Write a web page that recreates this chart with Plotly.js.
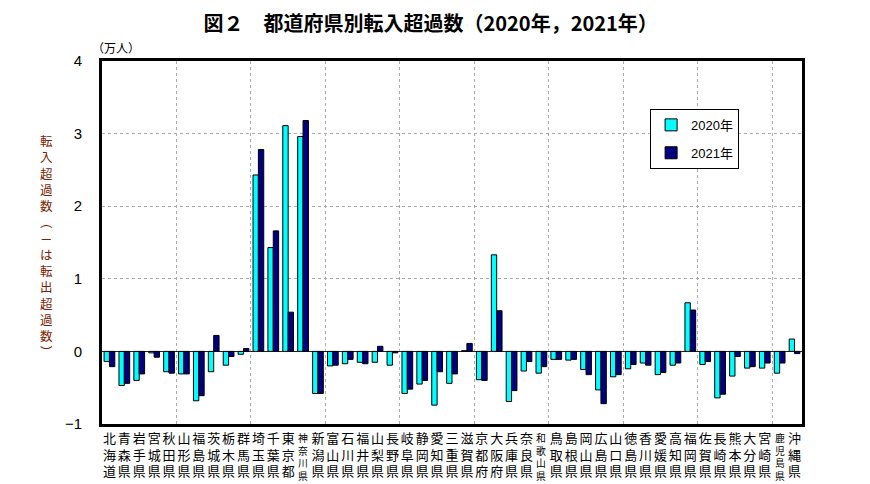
<!DOCTYPE html>
<html>
<head>
<meta charset="utf-8">
<script src="https://cdn.plot.ly/plotly-3.0.1.min.js"></script>
<style>html,body{margin:0;padding:0;background:#fff;}#chart{width:870px;height:484px;}</style>
</head>
<body>
<div id="chart"></div>
<script>
const prefectures = ['北海道','青森県','岩手県','宮城県','秋田県','山形県','福島県','茨城県','栃木県','群馬県',
  '埼玉県','千葉県','東京都','神奈川県','新潟県','富山県','石川県','福井県','山梨県','長野県',
  '岐阜県','静岡県','愛知県','三重県','滋賀県','京都府','大阪府','兵庫県','奈良県','和歌山県',
  '鳥取県','島根県','岡山県','広島県','山口県','徳島県','香川県','愛媛県','高知県','福岡県',
  '佐賀県','長崎県','熊本県','大分県','宮崎県','鹿児島県','沖縄県'];
const net2020 = [-0.14,-0.47,-0.40,-0.02,-0.28,-0.31,-0.68,-0.28,-0.19,-0.04,
  2.43,1.43,3.11,2.96,-0.58,-0.20,-0.17,-0.15,-0.15,-0.19,
  -0.58,-0.45,-0.74,-0.44,0.01,-0.39,1.33,-0.69,-0.27,-0.30,
  -0.11,-0.12,-0.25,-0.53,-0.35,-0.24,-0.16,-0.32,-0.19,0.67,
  -0.18,-0.64,-0.34,-0.23,-0.23,-0.30,0.17];
const net2021 = [-0.21,-0.44,-0.31,-0.08,-0.30,-0.31,-0.61,0.22,-0.07,0.04,
  2.78,1.66,0.54,3.18,-0.58,-0.19,-0.11,-0.17,0.07,-0.02,
  -0.52,-0.40,-0.28,-0.31,0.11,-0.40,0.56,-0.54,-0.14,-0.21,
  -0.11,-0.11,-0.32,-0.72,-0.32,-0.18,-0.19,-0.29,-0.16,0.57,
  -0.14,-0.59,-0.07,-0.21,-0.16,-0.16,-0.03];
const yTickVals = [-1,0,1,2,3,4];
const seriesNames = ['2020年','2021年'];
const chartTitle = '図２　都道府県別転入超過数（2020年，2021年）';
const unitLabel = '（万人）';
const yTitle = '転入超過数︵－は転出超過数︶';

const idx = prefectures.map((_, i) => i);
const vert = s => Array.from(s).join('<br>');
const isLong = s => Array.from(s).length > 3;
const shortIdx = idx.filter(i => !isLong(prefectures[i]));
const longIdx = idx.filter(i => isLong(prefectures[i]));
const gridVals = idx.filter(i => i > 0 && i % 5 === 0).map(i => i - 0.5);

const cjk = '"Noto Sans CJK JP", "Noto Sans", sans-serif';
const narrow = '"Liberation Sans Narrow", "Liberation Sans", Arial, sans-serif';

const traces = [
  {type:'bar', x: idx, y: net2020, name: seriesNames[0], legendgroup:'a',
   marker:{color:'#00FFFF', line:{color:'#000', width:1}}},
  {type:'bar', x: idx, y: net2021, name: seriesNames[1], legendgroup:'b',
   marker:{color:'#000080', line:{color:'#000', width:1}}}
];

// four-character prefecture names are set tighter (as in the original)
const longLabelAnnotations = longIdx.map(i => ({
  text: vert(prefectures[i]), xref: 'x', yref: 'paper', x: i, y: 0,
  xanchor: 'center', yanchor: 'top', yshift: -6, showarrow: false, borderpad: 0,
  font: {family: cjk, size: 9.8, color: '#000'}
}));

const xr = [-0.5, prefectures.length - 0.5];
const layout = {
  width: 870, height: 484,
  margin: {l: 102, r: 68, t: 61, b: 60},
  paper_bgcolor: '#fff', plot_bgcolor: '#fff',
  barmode: 'group', bargap: 0.28, bargroupgap: 0,
  showlegend: true,
  legend: {x: 0.783, y: 0.868, xanchor: 'left', yanchor: 'top',
    bgcolor: '#fff', bordercolor: '#000', borderwidth: 1,
    font: {family: narrow + ', ' + cjk, size: 13, color: '#000'},
    traceorder: 'grouped', tracegroupgap: 8},
  title: {text: chartTitle, x: 0.495, xref: 'container', y: 0.95, yref: 'container', yanchor: 'middle',
    font: {family: cjk, size: 20, color: '#000', weight: 'bold'}},
  xaxis: {range: xr, tickmode: 'array', tickvals: shortIdx, ticktext: shortIdx.map(i => vert(prefectures[i])),
    tickangle: 0, tickfont: {family: cjk, size: 13, color: '#000'}, ticks: '', showgrid: false, zeroline: false,
    showline: true, linecolor: '#000', linewidth: 3, mirror: true, fixedrange: true,
    minor: {tickmode: 'array', tickvals: gridVals, showgrid: true, gridcolor: '#aaaaaa', griddash: 'dot', gridwidth: 1, ticks: ''}},
  yaxis: {range: [-1, 4], tickmode: 'array', tickvals: yTickVals, ticks: '', ticklabelstandoff: 14,
    tickfont: {family: narrow, size: 15, color: '#000'},
    showgrid: true, gridcolor: '#aaaaaa', griddash: 'dot', gridwidth: 1,
    zeroline: true, zerolinecolor: '#222', zerolinewidth: 1,
    showline: true, linecolor: '#000', linewidth: 3, mirror: true, fixedrange: true},
  annotations: [
    {text: unitLabel, xref: 'paper', yref: 'paper', x: 0.02, y: 1.038, xanchor: 'center', yanchor: 'middle',
     showarrow: false, font: {family: cjk, size: 12, color: '#000'}},
    {text: vert(yTitle), xref: 'paper', yref: 'paper', x: -0.0786, y: 0.49, xanchor: 'center', yanchor: 'middle',
     showarrow: false, align: 'center', font: {family: cjk, size: 12.5, color: '#802000'}}
  ].concat(longLabelAnnotations)
};

Plotly.newPlot('chart', traces, layout, {displayModeBar: false, staticPlot: true});
</script>
</body>
</html>
